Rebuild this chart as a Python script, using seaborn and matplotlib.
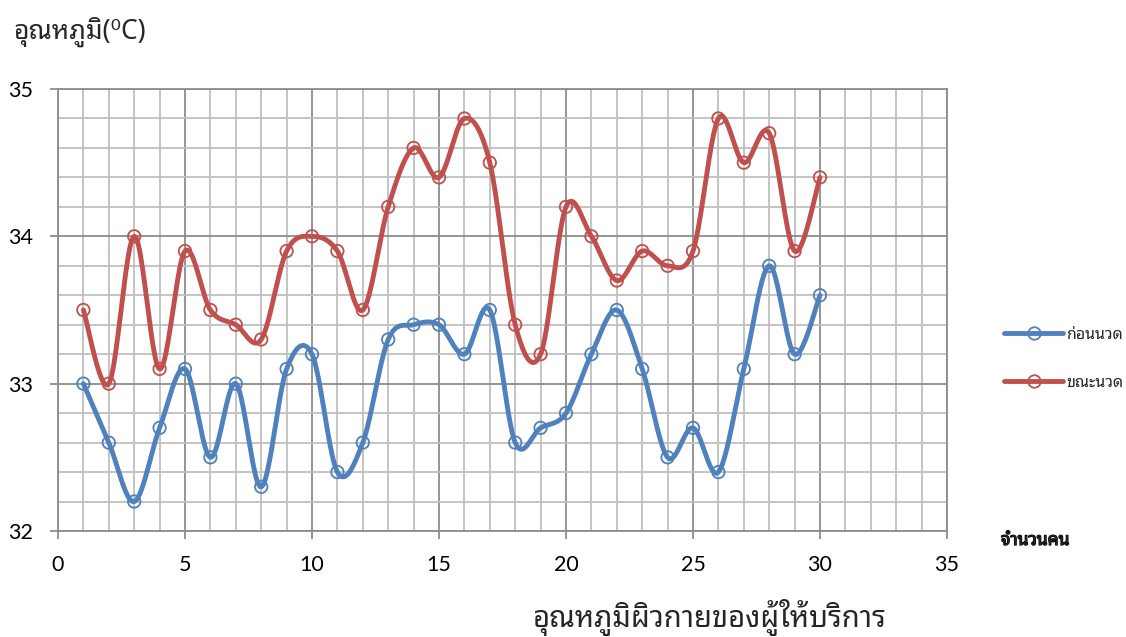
import numpy as np
import pandas as pd
import matplotlib
matplotlib.use("Agg")
import matplotlib.pyplot as plt
import matplotlib.patheffects as pe
import seaborn as sns
from matplotlib import font_manager
from matplotlib.ft2font import FT2Font
from matplotlib.ticker import MultipleLocator
from matplotlib.lines import Line2D

# ---- data ----
people = list(range(1, 31))
before_massage = [33.0, 32.6, 32.2, 32.7, 33.1, 32.5, 33.0, 32.3, 33.1, 33.2,
                  32.4, 32.6, 33.3, 33.4, 33.4, 33.2, 33.5, 32.6, 32.7, 32.8,
                  33.2, 33.5, 33.1, 32.5, 32.7, 32.4, 33.1, 33.8, 33.2, 33.6]
during_massage = [33.5, 33.0, 34.0, 33.1, 33.9, 33.5, 33.4, 33.3, 33.9, 34.0,
                  33.9, 33.5, 34.2, 34.6, 34.4, 34.8, 34.5, 33.4, 33.2, 34.2,
                  34.0, 33.7, 33.9, 33.8, 33.9, 34.8, 34.5, 34.7, 33.9, 34.4]
series_names = ["ก่อนนวด", "ขณะนวด"]
series_colors = ["#4F81BD", "#C0504D"]
y_title = "อุณหภูมิ(⁰C)"
x_title = "อุณหภูมิผิวกายของผู้ให้บริการ"
x_unit = "จำนวนคน"


def find_thai_font():
    """Return the name of an installed family that covers Thai glyphs,
    preferring a looped design."""
    ranked = {0: [], 1: [], 2: []}
    for f in font_manager.fontManager.ttflist:
        try:
            cmap = FT2Font(f.fname).get_charmap()
        except Exception:
            continue
        if 0x0E01 in cmap and 0x0E2D in cmap:
            if "Looped" in f.name:
                ranked[0].append(f.name)
            elif "Thai" in f.name:
                ranked[1].append(f.name)
            else:
                ranked[2].append(f.name)
    for k in (0, 1, 2):
        if ranked[k]:
            return sorted(ranked[k], key=len)[0]
    return None


thai = find_thai_font()
latin = "Lato"
thai_family = ([thai] if thai else []) + ["DejaVu Sans"]


def smooth(xs, ys, steps=24):
    """Catmull-Rom curve through the points (smoothed-line style)."""
    x = np.asarray(xs, float)
    y = np.asarray(ys, float)
    px = np.concatenate([[x[0]], x, [x[-1]]])
    py = np.concatenate([[y[0]], y, [y[-1]]])
    out_x, out_y = [], []
    t = np.linspace(0, 1, steps, endpoint=False)
    for i in range(1, len(px) - 2):
        p0x, p1x, p2x, p3x = px[i - 1], px[i], px[i + 1], px[i + 2]
        p0y, p1y, p2y, p3y = py[i - 1], py[i], py[i + 1], py[i + 2]
        c1x, c1y = p1x + (p2x - p0x) / 6, p1y + (p2y - p0y) / 6
        c2x, c2y = p2x - (p3x - p1x) / 6, p2y - (p3y - p1y) / 6
        b0 = (1 - t) ** 3
        b1 = 3 * (1 - t) ** 2 * t
        b2 = 3 * (1 - t) * t ** 2
        b3 = t ** 3
        out_x.extend(b0 * p1x + b1 * c1x + b2 * c2x + b3 * p2x)
        out_y.extend(b0 * p1y + b1 * c1y + b2 * c2y + b3 * p2y)
    out_x.append(x[-1])
    out_y.append(y[-1])
    return np.array(out_x), np.array(out_y)


sns.set_theme(style="white")
plt.rcParams["font.family"] = [latin, "DejaVu Sans"]

fig = plt.figure(figsize=(11.26, 6.37), dpi=100)
ax = fig.add_axes([58 / 1126, 1 - 531 / 637, (947 - 58) / 1126, (531 - 89) / 637])

# grid
ax.set_xlim(0, 35)
ax.set_ylim(32, 35)
ax.xaxis.set_major_locator(MultipleLocator(5))
ax.xaxis.set_minor_locator(MultipleLocator(1))
ax.yaxis.set_major_locator(MultipleLocator(1))
ax.yaxis.set_minor_locator(MultipleLocator(0.2))
ax.grid(which="minor", color="#BFBFBF", linewidth=1.3)
ax.grid(which="major", color="#8C8C8C", linewidth=1.3)
ax.set_axisbelow(True)
for side in ["left", "bottom", "right", "top"]:
    ax.spines[side].set_color("#8C8C8C")
    ax.spines[side].set_linewidth(1.3)

ax.tick_params(which="major", direction="out", length=6, width=1.3, color="#8C8C8C",
               labelsize=15.5, labelcolor="black")
ax.tick_params(which="minor", length=0)
ax.tick_params(axis="x", bottom=True, pad=11)
ax.tick_params(axis="y", left=True, pad=12)

# curves and markers
for vals, name, col in zip([before_massage, during_massage], series_names, series_colors):
    sx, sy = smooth(people, vals)
    curve = pd.DataFrame({"x": sx, "y": sy})
    sns.lineplot(data=curve, x="x", y="y", ax=ax, color=col, linewidth=3.5,
                 sort=False, estimator=None, zorder=3)
    pts = pd.DataFrame({"x": people, "y": vals})
    sns.scatterplot(data=pts, x="x", y="y", ax=ax, color=col, facecolor="none",
                    edgecolor=col, s=80, linewidth=1.3, zorder=4)

ax.set_xlabel("")
ax.set_ylabel("")

# legend
handles = [Line2D([0], [0], color=c, linewidth=3.5, marker="o", markersize=9,
                  markerfacecolor="none", markeredgecolor=c, markeredgewidth=1.3)
           for c in series_colors]
leg = fig.legend(handles, series_names, loc="center left",
                 bbox_to_anchor=(990 / 1126, 1 - 359 / 637), frameon=False,
                 handlelength=3.7, handletextpad=0.15, labelspacing=2.0,
                 prop={"family": thai_family, "size": 11.5})

# titles
fig.text(13 / 1126, 1 - 32 / 637, y_title, ha="left", va="center",
         fontsize=19, family=thai_family)
fig.text(710 / 1126, 1 - 617 / 637, x_title, ha="center", va="center",
         fontsize=21, family=thai_family)
unit = fig.text(1001 / 1126, 1 - 540 / 637, x_unit, ha="left", va="center",
                fontsize=12.5, fontweight="bold", family=thai_family)
unit.set_path_effects([pe.withStroke(linewidth=0.9, foreground="black")])

fig.savefig("out.png", dpi=100, facecolor="white")
